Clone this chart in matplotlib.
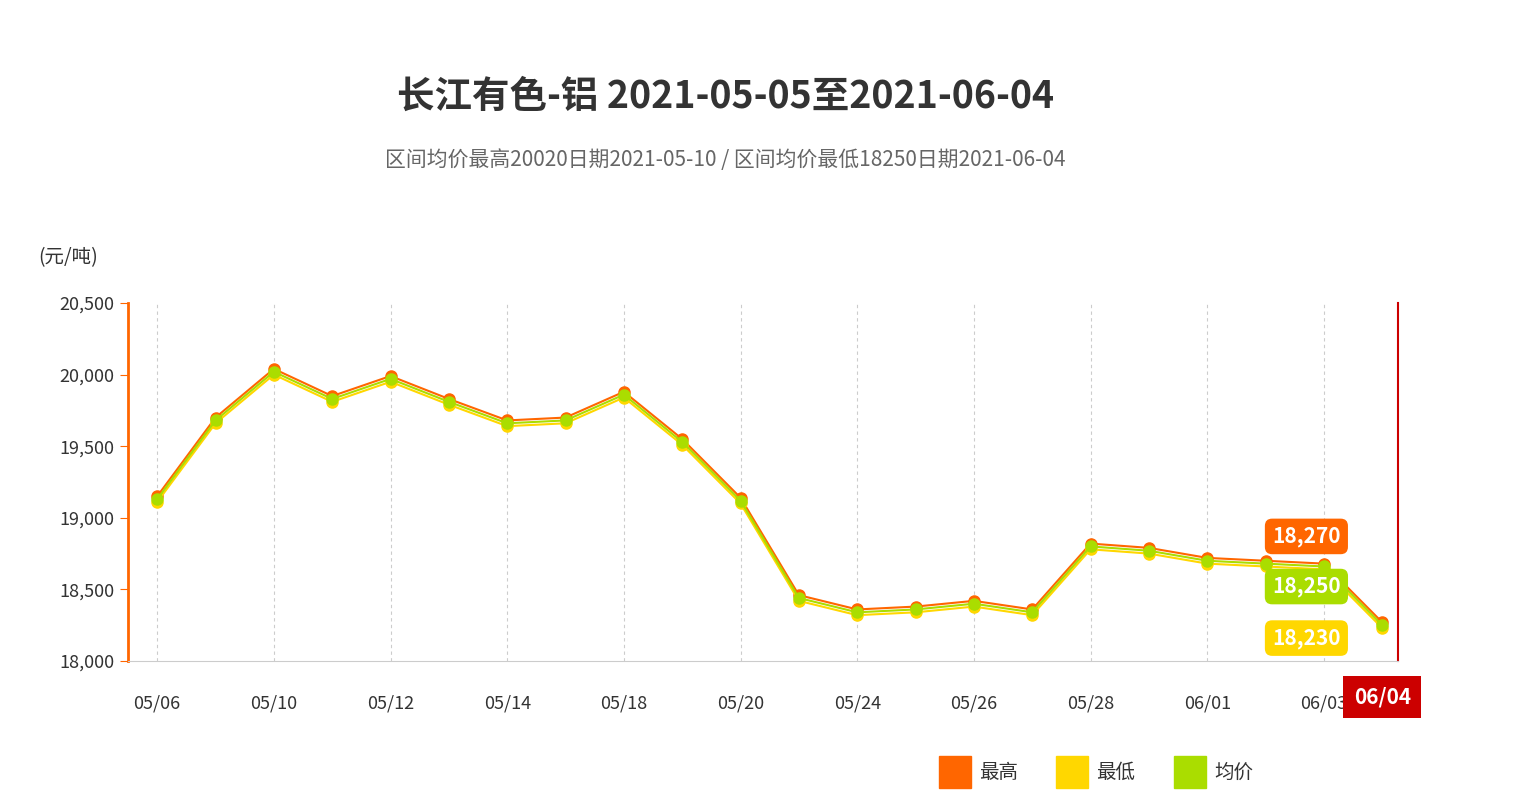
import matplotlib
matplotlib.use("Agg")
import matplotlib.pyplot as plt

plt.rcParams['font.family'] = ['Noto Sans CJK SC', 'DejaVu Sans']

dates = ["05/06","05/07","05/10","05/11","05/12","05/13","05/14","05/17","05/18","05/19","05/20",
         "05/21","05/24","05/25","05/26","05/27","05/28","05/31","06/01","06/02","06/03","06/04"]
avg  = [19130,19680,20020,19830,19970,19810,19660,19680,19860,19530,19120,
        18440,18340,18360,18400,18340,18800,18770,18700,18680,18660,18250]
high = [19150,19700,20040,19850,19990,19830,19680,19700,19880,19550,19140,
        18460,18360,18380,18420,18360,18820,18790,18720,18700,18680,18270]
low  = [19110,19660,20000,19810,19950,19790,19640,19660,19840,19510,19100,
        18420,18320,18340,18380,18320,18780,18750,18680,18660,18640,18230]
tick_labels = ["05/06","05/10","05/12","05/14","05/18","05/20","05/24","05/26","05/28","06/01","06/03"]

fig = plt.figure(figsize=(15.24, 8), dpi=100)
ax = fig.add_axes([128/1524, 1-661/800, (1398-128)/1524, (661-303)/800])
x = list(range(len(dates)))
ax.plot(x, high, color="#FF6600", lw=1.5, marker="o", ms=8, zorder=3)
ax.plot(x, low, color="#FFD700", lw=1.5, marker="o", ms=8, zorder=3)
ax.plot(x, avg, color="#AADD00", lw=1.5, marker="o", ms=8, zorder=4)
ax.set_ylim(18000, 20500)
ax.set_xlim(-0.5, 21.27)
ax.set_yticks([18000,18500,19000,19500,20000,20500])
ax.set_yticklabels([f"{v:,}" for v in [18000,18500,19000,19500,20000,20500]], fontsize=13)
ax.set_xticks(x[0::2])
ax.set_xticklabels(tick_labels, fontsize=13)
for xi in x[0::2]:
    ax.axvline(xi, color="#cccccc", ls=(0,(3,3)), lw=0.8, zorder=0)
for s in ["top","right"]:
    ax.spines[s].set_visible(False)
ax.spines["left"].set_color("#FF6600"); ax.spines["left"].set_linewidth(2)
ax.spines["bottom"].set_color("#cccccc")
ax.tick_params(axis="y", colors="#333333", length=6, color="#FF6600")
ax.tick_params(axis="x", colors="#333333", length=0, pad=24)
ax.axvline(21.27, color="#CC0000", lw=1.5, clip_on=False)

for val, col, yoff in [(high[-1], "#FF6600", 18870), (avg[-1], "#AADD00", 18520), (low[-1], "#FFD700", 18160)]:
    ax.text(19.7, yoff, f"{val:,}", fontsize=15, fontweight="bold", color="white", ha="center", va="center",
            bbox=dict(boxstyle="round,pad=0.35", fc=col, ec="none"), zorder=6)
ax.text(21.0, 17750, dates[-1], fontsize=15, fontweight="bold", color="white", ha="center", va="center",
        bbox=dict(boxstyle="square,pad=0.5", fc="#CC0000", ec="none"), zorder=6, clip_on=False)

fig.text(0.476, 0.88, "长江有色-铝 2021-05-05至2021-06-04", fontsize=27, fontweight="bold", color="#333333", ha="center", va="center")
fig.text(0.476, 0.80, "区间均价最高20020日期2021-05-10 / 区间均价最低18250日期2021-06-04", fontsize=15, color="#666666", ha="center", va="center")
fig.text(38/1524, 1-258/800, "(元/吨)", fontsize=14, color="#333333", va="center")

for lx, col, lab in [(955, "#FF6600", "最高"), (1072, "#FFD700", "最低"), (1190, "#AADD00", "均价")]:
    fig.patches.append(plt.Rectangle(((lx-16)/1524, 1-788/800), 32/1524, 32/800, color=col, transform=fig.transFigure))
    fig.text((lx+24)/1524, 1-772/800, lab, fontsize=14, color="#333333", va="center")

fig.savefig("out.png", dpi=100)
